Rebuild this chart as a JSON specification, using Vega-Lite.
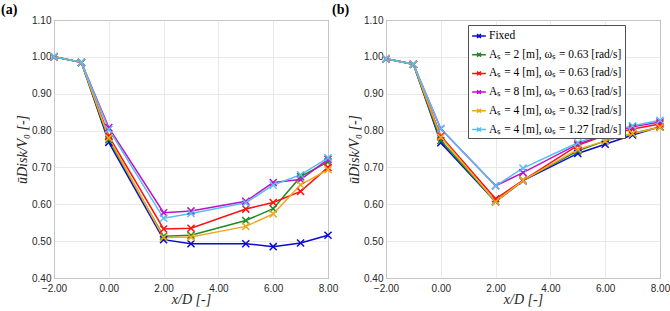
{
  "$schema": "https://vega.github.io/schema/vega-lite/v6.json",
  "padding": {"left": 0, "top": 2, "right": 5, "bottom": 2},
  "background": "white",
  "bounds": "flush",
  "spacing": 58,
  "config": {
    "view": {"stroke": "#505050", "strokeWidth": 1},
    "axis": {
      "labelFont": "Liberation Sans", "labelFontSize": 10, "labelColor": "#262626", "labelFlush": false,
      "titleFont": "Liberation Serif", "titleFontSize": 14, "titleFontWeight": "normal", "titleFontStyle": "italic", "titleColor": "#262626",
      "gridColor": "#e3e3e3", "gridWidth": 0.8, "domain": false, "ticks": false
    },
    "axisX": {"labelPadding": 5},
    "axisY": {"labelPadding": 3},
    "title": {"font": "Liberation Serif", "fontSize": 14, "fontWeight": "bold", "anchor": "start", "frame": "group", "color": "#000000"}
  },
  "datasets": {
    "pts": [
      {"panel": "a", "series": "Fixed", "x": -2, "v": 1.0},
      {"panel": "a", "series": "Fixed", "x": -1, "v": 0.985},
      {"panel": "a", "series": "Fixed", "x": 0, "v": 0.768},
      {"panel": "a", "series": "Fixed", "x": 2, "v": 0.504},
      {"panel": "a", "series": "Fixed", "x": 3, "v": 0.493},
      {"panel": "a", "series": "Fixed", "x": 5, "v": 0.493},
      {"panel": "a", "series": "Fixed", "x": 6, "v": 0.485},
      {"panel": "a", "series": "Fixed", "x": 7, "v": 0.495},
      {"panel": "a", "series": "Fixed", "x": 8, "v": 0.516},
      {"panel": "a", "series": "Aₛ = 2 [m], ωₛ = 0.63 [rad/s]", "x": -2, "v": 1.0},
      {"panel": "a", "series": "Aₛ = 2 [m], ωₛ = 0.63 [rad/s]", "x": -1, "v": 0.985},
      {"panel": "a", "series": "Aₛ = 2 [m], ωₛ = 0.63 [rad/s]", "x": 0, "v": 0.775},
      {"panel": "a", "series": "Aₛ = 2 [m], ωₛ = 0.63 [rad/s]", "x": 2, "v": 0.513},
      {"panel": "a", "series": "Aₛ = 2 [m], ωₛ = 0.63 [rad/s]", "x": 3, "v": 0.516},
      {"panel": "a", "series": "Aₛ = 2 [m], ωₛ = 0.63 [rad/s]", "x": 5, "v": 0.556},
      {"panel": "a", "series": "Aₛ = 2 [m], ωₛ = 0.63 [rad/s]", "x": 6, "v": 0.588},
      {"panel": "a", "series": "Aₛ = 2 [m], ωₛ = 0.63 [rad/s]", "x": 7, "v": 0.675},
      {"panel": "a", "series": "Aₛ = 2 [m], ωₛ = 0.63 [rad/s]", "x": 8, "v": 0.715},
      {"panel": "a", "series": "Aₛ = 4 [m], ωₛ = 0.63 [rad/s]", "x": -2, "v": 1.0},
      {"panel": "a", "series": "Aₛ = 4 [m], ωₛ = 0.63 [rad/s]", "x": -1, "v": 0.985},
      {"panel": "a", "series": "Aₛ = 4 [m], ωₛ = 0.63 [rad/s]", "x": 0, "v": 0.785},
      {"panel": "a", "series": "Aₛ = 4 [m], ωₛ = 0.63 [rad/s]", "x": 2, "v": 0.533},
      {"panel": "a", "series": "Aₛ = 4 [m], ωₛ = 0.63 [rad/s]", "x": 3, "v": 0.535},
      {"panel": "a", "series": "Aₛ = 4 [m], ωₛ = 0.63 [rad/s]", "x": 5, "v": 0.587},
      {"panel": "a", "series": "Aₛ = 4 [m], ωₛ = 0.63 [rad/s]", "x": 6, "v": 0.605},
      {"panel": "a", "series": "Aₛ = 4 [m], ωₛ = 0.63 [rad/s]", "x": 7, "v": 0.635},
      {"panel": "a", "series": "Aₛ = 4 [m], ωₛ = 0.63 [rad/s]", "x": 8, "v": 0.700},
      {"panel": "a", "series": "Aₛ = 8 [m], ωₛ = 0.63 [rad/s]", "x": -2, "v": 1.0},
      {"panel": "a", "series": "Aₛ = 8 [m], ωₛ = 0.63 [rad/s]", "x": -1, "v": 0.985},
      {"panel": "a", "series": "Aₛ = 8 [m], ωₛ = 0.63 [rad/s]", "x": 0, "v": 0.808},
      {"panel": "a", "series": "Aₛ = 8 [m], ωₛ = 0.63 [rad/s]", "x": 2, "v": 0.577},
      {"panel": "a", "series": "Aₛ = 8 [m], ωₛ = 0.63 [rad/s]", "x": 3, "v": 0.582},
      {"panel": "a", "series": "Aₛ = 8 [m], ωₛ = 0.63 [rad/s]", "x": 5, "v": 0.608},
      {"panel": "a", "series": "Aₛ = 8 [m], ωₛ = 0.63 [rad/s]", "x": 6, "v": 0.659},
      {"panel": "a", "series": "Aₛ = 8 [m], ωₛ = 0.63 [rad/s]", "x": 7, "v": 0.667},
      {"panel": "a", "series": "Aₛ = 8 [m], ωₛ = 0.63 [rad/s]", "x": 8, "v": 0.722},
      {"panel": "a", "series": "Aₛ = 4 [m], ωₛ = 0.32 [rad/s]", "x": -2, "v": 1.0},
      {"panel": "a", "series": "Aₛ = 4 [m], ωₛ = 0.32 [rad/s]", "x": -1, "v": 0.985},
      {"panel": "a", "series": "Aₛ = 4 [m], ωₛ = 0.32 [rad/s]", "x": 0, "v": 0.780},
      {"panel": "a", "series": "Aₛ = 4 [m], ωₛ = 0.32 [rad/s]", "x": 2, "v": 0.510},
      {"panel": "a", "series": "Aₛ = 4 [m], ωₛ = 0.32 [rad/s]", "x": 3, "v": 0.511},
      {"panel": "a", "series": "Aₛ = 4 [m], ωₛ = 0.32 [rad/s]", "x": 5, "v": 0.540},
      {"panel": "a", "series": "Aₛ = 4 [m], ωₛ = 0.32 [rad/s]", "x": 6, "v": 0.574},
      {"panel": "a", "series": "Aₛ = 4 [m], ωₛ = 0.32 [rad/s]", "x": 7, "v": 0.653},
      {"panel": "a", "series": "Aₛ = 4 [m], ωₛ = 0.32 [rad/s]", "x": 8, "v": 0.694},
      {"panel": "a", "series": "Aₛ = 4 [m], ωₛ = 1.27 [rad/s]", "x": -2, "v": 1.0},
      {"panel": "a", "series": "Aₛ = 4 [m], ωₛ = 1.27 [rad/s]", "x": -1, "v": 0.985},
      {"panel": "a", "series": "Aₛ = 4 [m], ωₛ = 1.27 [rad/s]", "x": 0, "v": 0.803},
      {"panel": "a", "series": "Aₛ = 4 [m], ωₛ = 1.27 [rad/s]", "x": 2, "v": 0.562},
      {"panel": "a", "series": "Aₛ = 4 [m], ωₛ = 1.27 [rad/s]", "x": 3, "v": 0.575},
      {"panel": "a", "series": "Aₛ = 4 [m], ωₛ = 1.27 [rad/s]", "x": 5, "v": 0.604},
      {"panel": "a", "series": "Aₛ = 4 [m], ωₛ = 1.27 [rad/s]", "x": 6, "v": 0.652},
      {"panel": "a", "series": "Aₛ = 4 [m], ωₛ = 1.27 [rad/s]", "x": 7, "v": 0.680},
      {"panel": "a", "series": "Aₛ = 4 [m], ωₛ = 1.27 [rad/s]", "x": 8, "v": 0.726},
      {"panel": "b", "series": "Fixed", "x": -2, "v": 0.995},
      {"panel": "b", "series": "Fixed", "x": -1, "v": 0.980},
      {"panel": "b", "series": "Fixed", "x": 0, "v": 0.767},
      {"panel": "b", "series": "Fixed", "x": 2, "v": 0.607},
      {"panel": "b", "series": "Fixed", "x": 3, "v": 0.664},
      {"panel": "b", "series": "Fixed", "x": 5, "v": 0.738},
      {"panel": "b", "series": "Fixed", "x": 6, "v": 0.763},
      {"panel": "b", "series": "Fixed", "x": 7, "v": 0.788},
      {"panel": "b", "series": "Fixed", "x": 8, "v": 0.810},
      {"panel": "b", "series": "Aₛ = 2 [m], ωₛ = 0.63 [rad/s]", "x": -2, "v": 0.995},
      {"panel": "b", "series": "Aₛ = 2 [m], ωₛ = 0.63 [rad/s]", "x": -1, "v": 0.980},
      {"panel": "b", "series": "Aₛ = 2 [m], ωₛ = 0.63 [rad/s]", "x": 0, "v": 0.773},
      {"panel": "b", "series": "Aₛ = 2 [m], ωₛ = 0.63 [rad/s]", "x": 2, "v": 0.607},
      {"panel": "b", "series": "Aₛ = 2 [m], ωₛ = 0.63 [rad/s]", "x": 3, "v": 0.665},
      {"panel": "b", "series": "Aₛ = 2 [m], ωₛ = 0.63 [rad/s]", "x": 5, "v": 0.745},
      {"panel": "b", "series": "Aₛ = 2 [m], ωₛ = 0.63 [rad/s]", "x": 6, "v": 0.772},
      {"panel": "b", "series": "Aₛ = 2 [m], ωₛ = 0.63 [rad/s]", "x": 7, "v": 0.792},
      {"panel": "b", "series": "Aₛ = 2 [m], ωₛ = 0.63 [rad/s]", "x": 8, "v": 0.810},
      {"panel": "b", "series": "Aₛ = 4 [m], ωₛ = 0.63 [rad/s]", "x": -2, "v": 0.995},
      {"panel": "b", "series": "Aₛ = 4 [m], ωₛ = 0.63 [rad/s]", "x": -1, "v": 0.980},
      {"panel": "b", "series": "Aₛ = 4 [m], ωₛ = 0.63 [rad/s]", "x": 0, "v": 0.785},
      {"panel": "b", "series": "Aₛ = 4 [m], ωₛ = 0.63 [rad/s]", "x": 2, "v": 0.615},
      {"panel": "b", "series": "Aₛ = 4 [m], ωₛ = 0.63 [rad/s]", "x": 3, "v": 0.665},
      {"panel": "b", "series": "Aₛ = 4 [m], ωₛ = 0.63 [rad/s]", "x": 5, "v": 0.760},
      {"panel": "b", "series": "Aₛ = 4 [m], ωₛ = 0.63 [rad/s]", "x": 6, "v": 0.787},
      {"panel": "b", "series": "Aₛ = 4 [m], ωₛ = 0.63 [rad/s]", "x": 7, "v": 0.804},
      {"panel": "b", "series": "Aₛ = 4 [m], ωₛ = 0.63 [rad/s]", "x": 8, "v": 0.818},
      {"panel": "b", "series": "Aₛ = 8 [m], ωₛ = 0.63 [rad/s]", "x": -2, "v": 0.995},
      {"panel": "b", "series": "Aₛ = 8 [m], ωₛ = 0.63 [rad/s]", "x": -1, "v": 0.980},
      {"panel": "b", "series": "Aₛ = 8 [m], ωₛ = 0.63 [rad/s]", "x": 0, "v": 0.805},
      {"panel": "b", "series": "Aₛ = 8 [m], ωₛ = 0.63 [rad/s]", "x": 2, "v": 0.650},
      {"panel": "b", "series": "Aₛ = 8 [m], ωₛ = 0.63 [rad/s]", "x": 3, "v": 0.686},
      {"panel": "b", "series": "Aₛ = 8 [m], ωₛ = 0.63 [rad/s]", "x": 5, "v": 0.763},
      {"panel": "b", "series": "Aₛ = 8 [m], ωₛ = 0.63 [rad/s]", "x": 6, "v": 0.790},
      {"panel": "b", "series": "Aₛ = 8 [m], ωₛ = 0.63 [rad/s]", "x": 7, "v": 0.810},
      {"panel": "b", "series": "Aₛ = 8 [m], ωₛ = 0.63 [rad/s]", "x": 8, "v": 0.823},
      {"panel": "b", "series": "Aₛ = 4 [m], ωₛ = 0.32 [rad/s]", "x": -2, "v": 0.995},
      {"panel": "b", "series": "Aₛ = 4 [m], ωₛ = 0.32 [rad/s]", "x": -1, "v": 0.980},
      {"panel": "b", "series": "Aₛ = 4 [m], ωₛ = 0.32 [rad/s]", "x": 0, "v": 0.782},
      {"panel": "b", "series": "Aₛ = 4 [m], ωₛ = 0.32 [rad/s]", "x": 2, "v": 0.607},
      {"panel": "b", "series": "Aₛ = 4 [m], ωₛ = 0.32 [rad/s]", "x": 3, "v": 0.665},
      {"panel": "b", "series": "Aₛ = 4 [m], ωₛ = 0.32 [rad/s]", "x": 5, "v": 0.749},
      {"panel": "b", "series": "Aₛ = 4 [m], ωₛ = 0.32 [rad/s]", "x": 6, "v": 0.772},
      {"panel": "b", "series": "Aₛ = 4 [m], ωₛ = 0.32 [rad/s]", "x": 7, "v": 0.792},
      {"panel": "b", "series": "Aₛ = 4 [m], ωₛ = 0.32 [rad/s]", "x": 8, "v": 0.809},
      {"panel": "b", "series": "Aₛ = 4 [m], ωₛ = 1.27 [rad/s]", "x": -2, "v": 0.995},
      {"panel": "b", "series": "Aₛ = 4 [m], ωₛ = 1.27 [rad/s]", "x": -1, "v": 0.980},
      {"panel": "b", "series": "Aₛ = 4 [m], ωₛ = 1.27 [rad/s]", "x": 0, "v": 0.805},
      {"panel": "b", "series": "Aₛ = 4 [m], ωₛ = 1.27 [rad/s]", "x": 2, "v": 0.650},
      {"panel": "b", "series": "Aₛ = 4 [m], ωₛ = 1.27 [rad/s]", "x": 3, "v": 0.698},
      {"panel": "b", "series": "Aₛ = 4 [m], ωₛ = 1.27 [rad/s]", "x": 5, "v": 0.767},
      {"panel": "b", "series": "Aₛ = 4 [m], ωₛ = 1.27 [rad/s]", "x": 6, "v": 0.793},
      {"panel": "b", "series": "Aₛ = 4 [m], ωₛ = 1.27 [rad/s]", "x": 7, "v": 0.813},
      {"panel": "b", "series": "Aₛ = 4 [m], ωₛ = 1.27 [rad/s]", "x": 8, "v": 0.828}
    ]
  },
  "resolve": {"legend": {"color": "independent"}},
  "hconcat": [
    {
      "width": 274, "height": 258,
      "title": {"text": "(a)", "dx": -53, "dy": 2, "offset": 0},
      "data": {"name": "pts"},
      "transform": [{"filter": "datum.panel == 'a'"}],
      "encoding": {
        "x": {"field": "x", "type": "quantitative", "scale": {"domain": [-2, 8], "nice": false, "zero": false},
              "axis": {"values": [-2, 0, 2, 4, 6, 8], "format": ".2f", "title": "x/D [-]", "titleY": 14, "titleBaseline": "top"}},
        "y": {"field": "v", "type": "quantitative", "scale": {"domain": [0.4, 1.1], "nice": false, "zero": false},
              "axis": {"values": [0.4, 0.5, 0.6, 0.7, 0.8, 0.9, 1.0, 1.1], "format": ".2f", "title": "ūDisk/V₀ [-]", "titleX": -25, "titleBaseline": "bottom"}},
        "color": {"field": "series", "type": "nominal",
                  "scale": {"domain": ["Fixed", "Aₛ = 2 [m], ωₛ = 0.63 [rad/s]", "Aₛ = 4 [m], ωₛ = 0.63 [rad/s]", "Aₛ = 8 [m], ωₛ = 0.63 [rad/s]", "Aₛ = 4 [m], ωₛ = 0.32 [rad/s]", "Aₛ = 4 [m], ωₛ = 1.27 [rad/s]"],
                            "range": ["#0a0ad0", "#1f8a1f", "#ff1010", "#c010c8", "#f2a81d", "#55bff0"]},
                  "legend": null}
      },
      "layer": [
        {"mark": {"type": "line", "strokeWidth": 1.5}},
        {"mark": {"type": "point", "shape": "M-1,-1L1,1M-1,1L1,-1", "filled": false, "size": 50, "strokeWidth": 1.5, "opacity": 1}}
      ]
    },
    {
      "width": 274, "height": 258,
      "title": {"text": "(b)", "dx": -54, "dy": 2, "offset": 0},
      "data": {"name": "pts"},
      "transform": [{"filter": "datum.panel == 'b'"}],
      "encoding": {
        "x": {"field": "x", "type": "quantitative", "scale": {"domain": [-2, 8], "nice": false, "zero": false},
              "axis": {"values": [-2, 0, 2, 4, 6, 8], "format": ".2f", "title": "x/D [-]", "titleY": 14, "titleBaseline": "top"}},
        "y": {"field": "v", "type": "quantitative", "scale": {"domain": [0.4, 1.1], "nice": false, "zero": false},
              "axis": {"values": [0.4, 0.5, 0.6, 0.7, 0.8, 0.9, 1.0, 1.1], "format": ".2f", "title": "ūDisk/V₀ [-]", "titleX": -25, "titleBaseline": "bottom"}},
        "color": {"field": "series", "type": "nominal",
                  "scale": {"domain": ["Fixed", "Aₛ = 2 [m], ωₛ = 0.63 [rad/s]", "Aₛ = 4 [m], ωₛ = 0.63 [rad/s]", "Aₛ = 8 [m], ωₛ = 0.63 [rad/s]", "Aₛ = 4 [m], ωₛ = 0.32 [rad/s]", "Aₛ = 4 [m], ωₛ = 1.27 [rad/s]"],
                            "range": ["#0a0ad0", "#1f8a1f", "#ff1010", "#c010c8", "#f2a81d", "#55bff0"]},
                  "legend": {"title": null, "orient": "none", "legendX": 82, "legendY": 5,
                             "fillColor": "white", "strokeColor": "#505050", "padding": 3,
                             "labelFont": "Liberation Serif", "labelFontSize": 11.5, "labelColor": "#000000", "labelOffset": 2,
                             "symbolType": "M-1,0H1M-0.28,-0.28L0.28,0.28M-0.28,0.28L0.28,-0.28",
                             "symbolSize": 190, "symbolStrokeWidth": 1.5, "symbolFillColor": "transparent", "rowPadding": 4.7}}
      },
      "layer": [
        {"mark": {"type": "line", "strokeWidth": 1.5}},
        {"mark": {"type": "point", "shape": "M-1,-1L1,1M-1,1L1,-1", "filled": false, "size": 50, "strokeWidth": 1.5, "opacity": 1}}
      ]
    }
  ]
}
